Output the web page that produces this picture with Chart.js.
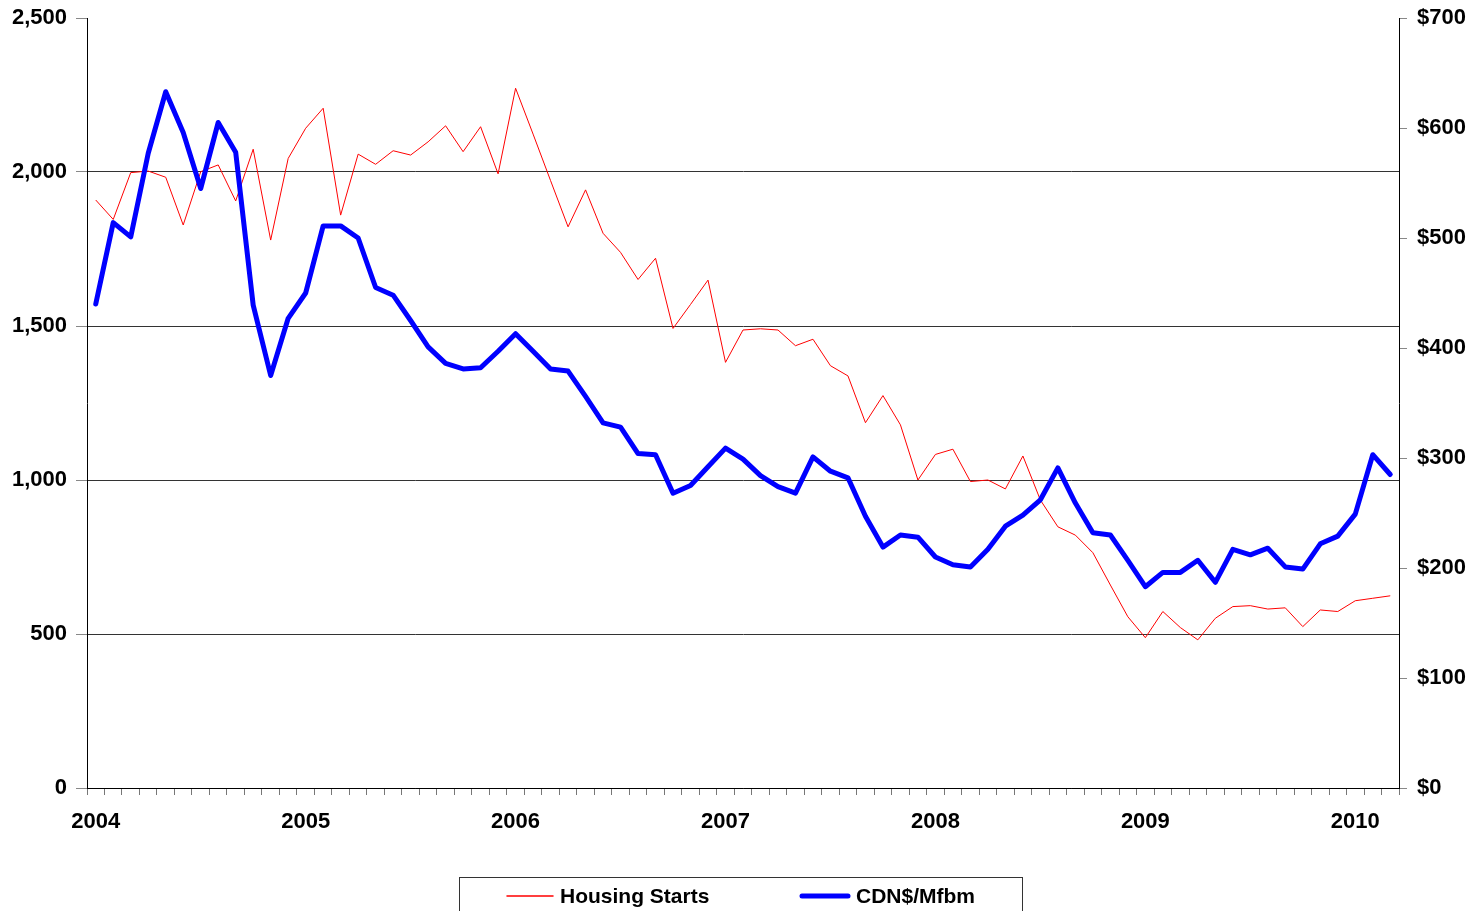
<!DOCTYPE html>
<html>
<head>
<meta charset="utf-8">
<script src="https://cdn.jsdelivr.net/npm/chart.js@4/dist/chart.umd.min.js"></script>
<style>
  body { margin: 0; background: #fff; }
  #wrap { width: 1483px; height: 911px; position: relative; }
</style>
</head>
<body>
<div id="wrap"><canvas id="myChart"></canvas></div>
<script>
'use strict';

// monthly, Jan 2004 .. Mar 2010
const monthCount = 75;
const yearLabels = ['2004', '2005', '2006', '2007', '2008', '2009', '2010'];

const housingStarts = [
  1909, 1846, 1998, 2003, 1983, 1828, 2001, 2023, 1906, 2074, 1779, 2044,
  2142, 2207, 1860, 2058, 2025, 2069, 2055, 2098, 2150, 2066, 2147, 1994,
  2272, 2123, 1972, 1822, 1942, 1801, 1739, 1651, 1720, 1492, 1570, 1649,
  1382, 1487, 1491, 1487, 1436, 1457, 1371, 1338, 1186, 1274, 1179, 1000,
  1083, 1100, 995, 1000, 971, 1078, 935, 848, 821, 764, 659, 556,
  488, 573, 521, 481, 551, 589, 592, 581, 585, 524, 578, 573,
  608, 616, 624
];

const lumberPrice = [
  440, 514, 501, 577, 633, 596, 545, 605, 578, 439, 375, 427,
  450, 511, 511, 500, 455, 448, 425, 401, 386, 381, 382, 397,
  413, 397, 381, 379, 356, 332, 328, 304, 303, 268, 275, 292,
  309, 299, 284, 274, 268, 301, 288, 282, 247, 219, 230, 228,
  210, 203, 201, 217, 238, 248, 262, 291, 259, 232, 230, 207,
  183, 196, 196, 207, 187, 217, 212, 218, 201, 199, 222, 229,
  249, 303, 285
];

let months = [];
for (let i = 0; i < monthCount; i++) {
  months.push(yearLabels[Math.floor(i / 12)] + '-' + String(i % 12 + 1).padStart(2, '0'));
}

const font = { family: '"Liberation Sans", Arial, sans-serif', size: 22, weight: 'bold' };

// legend drawn by hand so it can have the framed box
const boxLegend = {
  id: 'boxLegend',
  afterDraw(chart) {
    const c = chart.ctx;
    const ds = chart.data.datasets;
    const items = [{ x: 507, tx: 560 }, { x: 802, tx: 856 }];
    const y = 896;
    c.save();
    c.strokeStyle = '#333';
    c.lineWidth = 1;
    c.strokeRect(459.5, 877.5, 563, 60);
    c.font = 'bold 21px "Liberation Sans", Arial, sans-serif';
    c.textBaseline = 'middle';
    c.fillStyle = '#000';
    for (let i = 0; i < ds.length; i++) {
      c.beginPath();
      c.strokeStyle = ds[i].borderColor;
      c.lineWidth = ds[i].borderWidth === 1 ? 1.5 : ds[i].borderWidth;
      c.lineCap = 'round';
      c.moveTo(items[i].x, y);
      c.lineTo(items[i].x + 46, y);
      c.stroke();
      c.fillText(ds[i].label, items[i].tx, y + 1);
    }
    c.restore();
  }
};

// keep the y axes from pushing the plot top down
function fixY(width) {
  return function (s) {
    s.width = width;
    s.paddingTop = 0;
    s.paddingBottom = 0;
  };
}

new Chart(document.getElementById('myChart'), {
  type: 'line',
  data: {
    labels: months,
    datasets: [{
      label: 'Housing Starts',
      data: housingStarts,
      borderColor: '#ff0000',
      borderWidth: 1,
      yAxisID: 'y',
      order: 2
    }, {
      label: 'CDN$/Mfbm',
      data: lumberPrice,
      borderColor: '#0000ff',
      borderWidth: 5,
      borderJoinStyle: 'round',
      borderCapStyle: 'round',
      yAxisID: 'y1',
      order: 1
    }]
  },
  options: {
    responsive: true,
    maintainAspectRatio: false,
    animation: false,
    elements: { point: { radius: 0 }, line: { tension: 0 } },
    layout: { padding: { top: 18, left: 0, right: 0, bottom: 0 } },
    plugins: { legend: { display: false }, tooltip: { enabled: false } },
    scales: {
      x: {
        offset: true,
        grid: { offset: true, drawOnChartArea: false, tickLength: 7, color: '#777' },
        border: { color: '#000', width: 1 },
        ticks: {
          autoSkip: false,
          maxRotation: 0,
          padding: 14,
          color: '#000',
          font: font,
          callback: function (v, i) { return i % 12 === 0 ? yearLabels[i / 12] : ''; }
        },
        afterFit: function (s) { s.height = 123; }
      },
      y: {
        position: 'left',
        min: 0,
        max: 2500,
        grid: {
          color: function (c) { return c.tick.value === 2500 ? 'rgba(0,0,0,0)' : '#333'; },
          tickColor: '#888',
          tickLength: 11
        },
        border: { color: '#000', width: 1 },
        ticks: {
          stepSize: 500,
          padding: 9,
          color: '#000',
          font: font,
          callback: function (v) { return v.toLocaleString('en-US'); }
        },
        afterFit: fixY(87)
      },
      y1: {
        position: 'right',
        min: 0,
        max: 700,
        grid: { drawOnChartArea: false, tickColor: '#888', tickLength: 8 },
        border: { color: '#000', width: 1 },
        ticks: {
          stepSize: 100,
          padding: 10,
          color: '#000',
          font: font,
          callback: function (v) { return '$' + v; }
        },
        afterFit: fixY(84)
      }
    }
  },
  plugins: [boxLegend]
});
</script>
</body>
</html>
